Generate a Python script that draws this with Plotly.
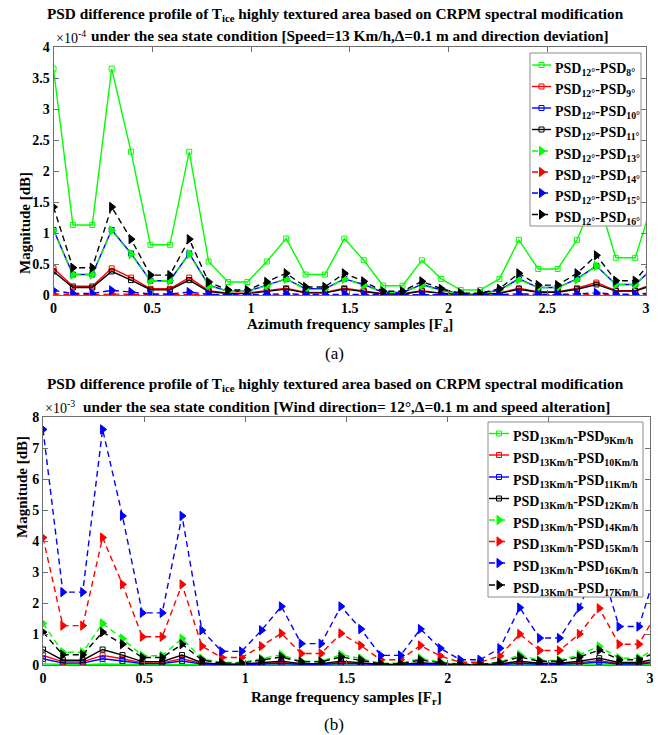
import numpy as np
import plotly.graph_objects as go

# Sample positions (normalised frequency, step pi/32)
freq = np.arange(32) * np.pi / 32

# ---- (a) azimuth profile, values in units of 1e-4 ----
az_labels = ["8°", "9°", "10°", "11°", "13°", "14°", "15°", "16°"]
az_d8 = [3.65, 1.13, 1.13, 3.65, 2.31, 0.81, 0.81, 2.31, 0.54, 0.21, 0.21, 0.54, 0.91, 0.33, 0.33, 0.91,
         0.56, 0.15, 0.15, 0.56, 0.26, 0.08, 0.08, 0.26, 0.89, 0.42, 0.42, 0.89, 1.64, 0.60, 0.60, 1.60]
az_d9 = [0.43, 0.14, 0.14, 0.43, 0.28, 0.10, 0.10, 0.28, 0.07, 0.03, 0.03, 0.07, 0.11, 0.04, 0.04, 0.11,
         0.07, 0.02, 0.02, 0.07, 0.03, 0.01, 0.01, 0.03, 0.11, 0.05, 0.05, 0.11, 0.20, 0.07, 0.07, 0.19]
az_d10 = [1.05, 0.33, 0.33, 1.05, 0.67, 0.23, 0.23, 0.67, 0.16, 0.06, 0.06, 0.16, 0.26, 0.10, 0.10, 0.26,
          0.17, 0.04, 0.04, 0.17, 0.08, 0.02, 0.02, 0.08, 0.26, 0.12, 0.12, 0.26, 0.47, 0.17, 0.17, 0.46]
az_d11 = [0.38, 0.12, 0.12, 0.38, 0.24, 0.085, 0.085, 0.24, 0.056, 0.022, 0.022, 0.056, 0.095, 0.034, 0.034, 0.095,
          0.058, 0.016, 0.016, 0.058, 0.027, 0.008, 0.008, 0.027, 0.093, 0.044, 0.044, 0.093, 0.17, 0.062, 0.062, 0.17]
az_d13 = [1.04, 0.33, 0.33, 1.04, 0.66, 0.23, 0.23, 0.66, 0.15, 0.06, 0.06, 0.15, 0.26, 0.09, 0.09, 0.26,
          0.16, 0.04, 0.04, 0.16, 0.07, 0.02, 0.02, 0.07, 0.25, 0.12, 0.12, 0.25, 0.47, 0.17, 0.17, 0.46]
az_d14 = [0.015, 0.005, 0.005, 0.015, 0.010, 0.003, 0.003, 0.010, 0.002, 0.001, 0.001, 0.002, 0.004, 0.001, 0.001, 0.004,
          0.002, 0.001, 0.001, 0.002, 0.001, 0.000, 0.000, 0.001, 0.004, 0.002, 0.002, 0.004, 0.007, 0.002, 0.002, 0.007]
az_d15 = [0.075, 0.023, 0.023, 0.075, 0.047, 0.017, 0.017, 0.047, 0.011, 0.004, 0.004, 0.011, 0.019, 0.007, 0.007, 0.019,
          0.011, 0.003, 0.003, 0.011, 0.005, 0.002, 0.002, 0.005, 0.018, 0.009, 0.009, 0.018, 0.034, 0.012, 0.012, 0.033]
az_d16 = [1.42, 0.44, 0.44, 1.42, 0.90, 0.32, 0.32, 0.90, 0.21, 0.08, 0.08, 0.21, 0.35, 0.13, 0.13, 0.35,
          0.22, 0.06, 0.06, 0.22, 0.10, 0.03, 0.03, 0.10, 0.35, 0.16, 0.16, 0.35, 0.64, 0.23, 0.23, 0.62]

# ---- (b) range profile, values in units of 1e-3 ----
rg_labels = ["9Km/h", "10Km/h", "11Km/h", "12Km/h", "14Km/h", "15Km/h", "16Km/h", "17Km/h"]
rg_d9 = [0.03, 0.009, 0.009, 0.03, 0.019, 0.007, 0.007, 0.019, 0.004, 0.002, 0.002, 0.004, 0.007, 0.003, 0.003, 0.007,
         0.005, 0.001, 0.001, 0.005, 0.002, 0.001, 0.001, 0.002, 0.007, 0.003, 0.003, 0.007, 0.013, 0.005, 0.005, 0.013]
rg_d10 = [0.31, 0.10, 0.10, 0.31, 0.20, 0.07, 0.07, 0.20, 0.05, 0.02, 0.02, 0.05, 0.08, 0.03, 0.03, 0.08,
          0.05, 0.013, 0.013, 0.05, 0.022, 0.007, 0.007, 0.022, 0.076, 0.036, 0.036, 0.076, 0.14, 0.05, 0.05, 0.136]
rg_d11 = [0.20, 0.062, 0.062, 0.20, 0.127, 0.045, 0.045, 0.127, 0.03, 0.012, 0.012, 0.03, 0.05, 0.018, 0.018, 0.05,
          0.031, 0.008, 0.008, 0.031, 0.014, 0.004, 0.004, 0.014, 0.049, 0.023, 0.023, 0.049, 0.09, 0.033, 0.033, 0.088]
rg_d12 = [0.50, 0.155, 0.155, 0.50, 0.32, 0.11, 0.11, 0.32, 0.074, 0.029, 0.029, 0.074, 0.125, 0.045, 0.045, 0.125,
          0.077, 0.021, 0.021, 0.077, 0.036, 0.011, 0.011, 0.036, 0.122, 0.058, 0.058, 0.122, 0.22, 0.082, 0.082, 0.22]
rg_d14 = [1.34, 0.41, 0.41, 1.34, 0.85, 0.30, 0.30, 0.85, 0.20, 0.08, 0.08, 0.20, 0.33, 0.12, 0.12, 0.33,
          0.21, 0.055, 0.055, 0.21, 0.095, 0.03, 0.03, 0.095, 0.33, 0.15, 0.15, 0.33, 0.60, 0.22, 0.22, 0.59]
rg_d15 = [4.11, 1.27, 1.27, 4.11, 2.60, 0.91, 0.91, 2.60, 0.61, 0.24, 0.24, 0.61, 1.02, 0.37, 0.37, 1.02,
          0.63, 0.17, 0.17, 0.63, 0.29, 0.09, 0.09, 0.29, 1.00, 0.47, 0.47, 1.00, 1.83, 0.67, 0.67, 1.80]
rg_d16 = [7.60, 2.35, 2.35, 7.60, 4.81, 1.68, 1.68, 4.81, 1.12, 0.44, 0.44, 1.12, 1.89, 0.69, 0.69, 1.89,
          1.16, 0.31, 0.31, 1.16, 0.54, 0.17, 0.17, 0.54, 1.85, 0.87, 0.87, 1.85, 3.38, 1.24, 1.24, 3.30]
rg_d17 = [1.06, 0.33, 0.33, 1.06, 0.67, 0.24, 0.24, 0.67, 0.16, 0.06, 0.06, 0.16, 0.26, 0.10, 0.10, 0.26,
          0.16, 0.04, 0.04, 0.16, 0.075, 0.023, 0.023, 0.075, 0.26, 0.12, 0.12, 0.26, 0.48, 0.17, 0.17, 0.46]

az_series = [az_d8, az_d9, az_d10, az_d11, az_d13, az_d14, az_d15, az_d16]
rg_series = [rg_d9, rg_d10, rg_d11, rg_d12, rg_d14, rg_d15, rg_d16, rg_d17]

colors = ["#00ff00", "#ff0000", "#0000ff", "#000000"] * 2
FONT = "Liberation Serif"
DASH = "6px,4px"

# page geometry (pixels)
W, H = 668, 735
ML, MR, MT, MB = 43, 18, 47, 70
PW, PH = W - ML - MR, H - MT - MB


def X(px):
    return (px - ML) / PW


def Y(py):
    return 1 - (py - MT) / PH


fig = go.Figure()


def style(i):
    solid = i < 4
    return dict(
        line=dict(color=colors[i], width=1.4, dash="solid" if solid else DASH),
        marker=dict(symbol="square-open" if solid else "triangle-right",
                    size=5 if solid else 8, color=colors[i],
                    line=dict(width=1, color=colors[i])),
    )


def add_group(series, xa, ya):
    for i, vals in enumerate(series):
        fig.add_trace(go.Scatter(x=freq, y=vals, xaxis=xa, yaxis=ya, mode="lines+markers",
                                 showlegend=False, hoverinfo="skip", **style(i)))


add_group(az_series, "x", "y")
add_group(rg_series, "x2", "y2")


# Legend panels drawn on a full-area pixel-space axis pair (x3/y3)
def add_legend(box, rows, line_x, text_x, ref, labels):
    x0, y0, x1, y1 = box
    fig.add_trace(go.Scatter(x=[x0, x1, x1, x0, x0], y=[y0, y0, y1, y1, y0], xaxis="x3", yaxis="y3",
                             mode="lines", fill="toself", fillcolor="white",
                             line=dict(color="#8c8c8c", width=1), showlegend=False, hoverinfo="skip"))
    for i, (ry, lab) in enumerate(zip(rows, labels)):
        st = style(i)
        fig.add_trace(go.Scatter(x=list(line_x), y=[ry, ry], xaxis="x3", yaxis="y3", mode="lines",
                                 line=st["line"], showlegend=False, hoverinfo="skip", cliponaxis=False))
        fig.add_trace(go.Scatter(x=[(line_x[0] + line_x[1]) / 2], y=[ry], xaxis="x3", yaxis="y3",
                                 mode="markers", marker=st["marker"], showlegend=False, hoverinfo="skip",
                                 cliponaxis=False))
        fig.add_annotation(text=f"PSD<sub>{ref}</sub>-PSD<sub>{lab}</sub>", x=text_x, y=ry + 4,
                           xref="x3", yref="y3", xanchor="left", yanchor="middle", showarrow=False,
                           font=dict(family=FONT, size=14, color="#000000", weight="bold"))


top_rows = [65, 86.5, 108, 129.5, 151, 172, 193, 214.5]
bot_rows = [433.5, 455, 477, 498.5, 520, 541.5, 563, 585]
add_legend((530, 53, 641, 226), top_rows, (532, 551), 553, "12°", az_labels)
add_legend((488, 422, 643, 597), bot_rows, (489, 509), 511, "13Km/h", rg_labels)

axis_common = dict(showgrid=False, zeroline=False, showline=True, mirror="ticks",
                   linecolor="#6e6e6e", linewidth=1, ticks="inside", ticklen=5,
                   tickcolor="#6e6e6e",
                   tickfont=dict(family=FONT, size=14, color="#000000", weight="bold"))

xt = [0, 0.5, 1, 1.5, 2, 2.5, 3]
xtt = ["0", "0.5", "1", "1.5", "2", "2.5", "3"]
top_y = [0, 0.5, 1, 1.5, 2, 2.5, 3, 3.5, 4]

fig.update_layout(
    width=W, height=H,
    margin=dict(l=ML, r=MR, t=MT, b=MB),
    plot_bgcolor="rgba(0,0,0,0)", paper_bgcolor="white",
    showlegend=False,
    xaxis=dict(domain=[X(53.5), X(646)], anchor="y", range=[0, 3], tickvals=xt, ticktext=xtt, **axis_common),
    yaxis=dict(domain=[Y(295), 1.0], anchor="x", range=[0, 4], tickvals=top_y,
               ticktext=[f"{v:g}" for v in top_y], **axis_common),
    xaxis2=dict(domain=[0, 1], anchor="y2", range=[0, 3], tickvals=xt, ticktext=xtt, **axis_common),
    yaxis2=dict(domain=[0, Y(417)], anchor="x2", range=[0, 8], tickvals=list(range(9)),
                ticktext=[str(v) for v in range(9)], **axis_common),
    xaxis3=dict(domain=[0, 1], anchor="y3", range=[ML, W - MR], visible=False, fixedrange=True),
    yaxis3=dict(domain=[0, 1], anchor="x3", range=[H - MB, MT], visible=False, fixedrange=True),
)

bold = dict(family=FONT, size=15.3, color="#000000", weight="bold")
axfont = dict(family=FONT, size=15, color="#000000", weight="bold")
plain = dict(family=FONT, size=14, color="#000000")
title1 = "PSD difference profile of T<sub>ice</sub> highly textured area based on CRPM spectral modification"


def note(text, px, py, font, **kw):
    fig.add_annotation(text=text, x=X(px), y=Y(py), xref="paper", yref="paper", showarrow=False,
                       font=font, **kw)


# panel (a) titles
note(title1, 335, 14, bold, yanchor="middle")
note("under the sea state condition [Speed=13 Km/h,Δ=0.1 m and direction deviation]", 350, 36, bold,
     yanchor="middle")
note("×10<sup>-4</sup>", 54, 37, plain, xanchor="left", yanchor="middle")
# panel (b) titles
note(title1, 335, 384, bold, yanchor="middle")
note("under the sea state condition [Wind direction= 12°,Δ=0.1 m and speed alteration]", 346, 406, bold,
     yanchor="middle")
note("×10<sup>-3</sup>", 43, 407, plain, xanchor="left", yanchor="middle")
# axis titles
note("Azimuth frequency samples [F<sub>a</sub>]", 350, 325, axfont, yanchor="middle")
note("Range frequency samples [F<sub>r</sub>]", 346, 698, axfont, yanchor="middle")
note("Magnitude [dB]", 15, 170, axfont, textangle=-90)
note("Magnitude [dB]", 12, 540, axfont, textangle=-90)
# panel labels
note("(a)", 334, 353, dict(family=FONT, size=17, color="#000000"), yanchor="middle")
note("(b)", 334, 724, dict(family=FONT, size=17, color="#000000"), yanchor="middle")

fig.write_html("out.html")
